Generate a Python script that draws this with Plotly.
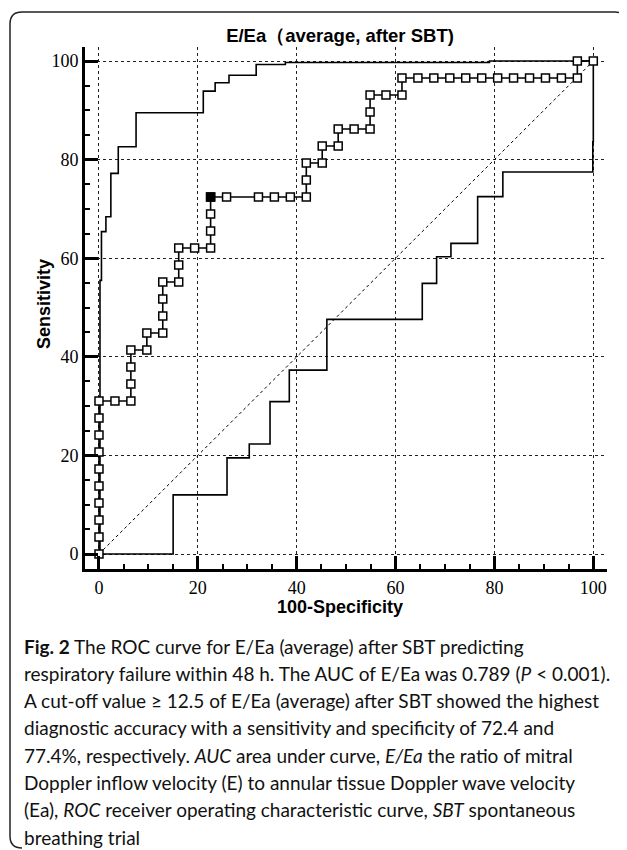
import plotly.graph_objects as go

# ---------------- data ----------------
# ROC curve (100-Specificity, Sensitivity) in %
roc_fpr = [0, 0, 0, 0, 0, 0, 0, 0, 0, 0,
           3.23, 6.45, 6.45, 6.45, 6.45, 9.68, 9.68, 12.90, 12.90, 12.90,
           12.90, 16.13, 16.13, 16.13, 19.35, 22.58, 22.58, 22.58, 22.58, 25.81,
           32.26, 35.48, 38.71, 41.94, 41.94, 41.94, 45.16, 45.16, 48.39, 48.39,
           51.61, 54.84, 54.84, 54.84, 58.06, 61.29, 61.29, 64.52, 67.74, 70.97,
           74.19, 77.42, 80.65, 83.87, 87.10, 90.32, 93.55, 96.77, 96.77, 100]
roc_tpr = [0, 3.45, 6.90, 10.34, 13.79, 17.24, 20.69, 24.14, 27.59, 31.03,
           31.03, 31.03, 34.48, 37.93, 41.38, 41.38, 44.83, 44.83, 48.28, 51.72,
           55.17, 55.17, 58.62, 62.07, 62.07, 62.07, 65.52, 68.97, 72.41, 72.41,
           72.41, 72.41, 72.41, 72.41, 75.86, 79.31, 79.31, 82.76, 82.76, 86.21,
           86.21, 86.21, 89.66, 93.10, 93.10, 93.10, 96.55, 96.55, 96.55, 96.55,
           96.55, 96.55, 96.55, 96.55, 96.55, 96.55, 96.55, 96.55, 100, 100]

# optimal cut-off point (criterion >= 12.5)
cut_fpr = [22.58]
cut_tpr = [72.41]

# upper confidence bound (step curve)
upper_x = [0, 0.2, 0.5, 1.4, 2.4, 3.9, 7.5, 21.1, 23.5, 26.3, 31.8, 37.7, 79.0, 100]
upper_y = [0, 55.5, 65.4, 68.4, 77.2, 82.6, 89.5, 93.9, 95.6, 97.1, 99.3, 99.7, 100, 100]

# lower confidence bound (step curve)
lower_x = [0, 15.0, 25.9, 30.4, 34.6, 38.5, 46.1, 65.4, 68.3, 71.2, 76.6, 81.7, 99.9, 100]
lower_y = [0, 12.0, 19.5, 22.3, 30.9, 37.3, 47.6, 54.9, 60.3, 63.0, 72.5, 77.5, 83.6, 100]

# reference diagonal
diag_x = [0, 100]
diag_y = [0, 100]

tick_vals = [0, 20, 40, 60, 80, 100]
tick_text = ["0", "20", "40", "60", "80", "100"]

title_text = "E/Ea（average, after SBT)"
x_title = "100-Specificity"
y_title = "Sensitivity"

caption_lines = [
    "<b>Fig. 2</b> The ROC curve for E/Ea (average) after SBT predicting",
    "respiratory failure within 48 h. The AUC of E/Ea was 0.789 (<i>P</i> < 0.001).",
    "A cut-off value ≥ 12.5 of E/Ea (average) after SBT showed the highest",
    "diagnostic accuracy with a sensitivity and specificity of 72.4 and",
    "77.4%, respectively. <i>AUC</i> area under curve, <i>E/Ea</i> the ratio of mitral",
    "Doppler inflow velocity (E) to annular tissue Doppler wave velocity",
    "(Ea), <i>ROC</i> receiver operating characteristic curve, <i>SBT</i> spontaneous",
    "breathing trial",
]

# ---------------- layout helpers ----------------
OFF = 8                      # default page margin of the html body
W, H = 627 - OFF, 850 - OFF
ML, MR, MT, MB = 85 - OFF, 20, 47 - OFF, 281
PW = W - ML - MR
PH = H - MT - MB


def px(X):
    """window pixel x -> paper fraction"""
    return (X - OFF - ML) / PW


def py(Y):
    """window pixel y -> paper fraction"""
    return (H - MB - (Y - OFF)) / PH


fig = go.Figure()

fig.add_trace(go.Scatter(x=diag_x, y=diag_y, mode="lines",
                         line=dict(color="black", width=1, dash="dot"),
                         hoverinfo="skip", showlegend=False))
fig.add_trace(go.Scatter(x=upper_x, y=upper_y, mode="lines",
                         line=dict(color="black", width=1.6, shape="hv"),
                         showlegend=False))
fig.add_trace(go.Scatter(x=lower_x, y=lower_y, mode="lines",
                         line=dict(color="black", width=1.6, shape="hv"),
                         showlegend=False))
fig.add_trace(go.Scatter(x=roc_fpr, y=roc_tpr, mode="lines+markers",
                         line=dict(color="black", width=1.6),
                         marker=dict(symbol="square", size=8, color="white",
                                     line=dict(color="black", width=1.5)),
                         showlegend=False))
fig.add_trace(go.Scatter(x=cut_fpr, y=cut_tpr, mode="markers",
                         marker=dict(symbol="square", size=8, color="black",
                                     line=dict(color="black", width=1.5)),
                         showlegend=False))

axis_common = dict(
    tickvals=tick_vals, ticktext=tick_text,
    ticks="inside", ticklen=13, tickwidth=3, tickcolor="black",
    showline=True, linewidth=3, linecolor="black", mirror=False,
    showgrid=True, gridcolor="#222222", gridwidth=1, griddash="dot",
    zeroline=False,
    tickfont=dict(family="Liberation Serif, Times New Roman, serif", size=18, color="black"),
    minor=dict(ticks="inside", ticklen=5, tickwidth=1.5, tickcolor="black",
               dtick=5, tick0=0, showgrid=False),
)

fig.update_xaxes(range=[-2.83, 102.77], **axis_common)
fig.update_yaxes(range=[-3.04, 102.84], **axis_common)

axis_title_font = dict(family="Liberation Sans, Arial, sans-serif",
                       size=18, color="black", weight="bold")
annotations = [
    dict(text=x_title, x=px(340), y=py(606.5), xref="paper", yref="paper",
         xanchor="center", yanchor="middle", showarrow=False,
         font=axis_title_font),
    dict(text=y_title, x=px(44), y=py(304), xref="paper", yref="paper",
         xanchor="center", yanchor="middle", showarrow=False, textangle=-90,
         font=axis_title_font),
]

for i, line in enumerate(caption_lines):
    annotations.append(dict(
        text=line, x=px(22), y=py(646 + 27.3 * i), xref="paper", yref="paper",
        xanchor="left", yanchor="middle", align="left", showarrow=False,
        font=dict(family="Lato, Open Sans, sans-serif", size=19, color="#111111")))

border_path = (
    f"M {px(22)},{py(848)} Q {px(10)},{py(848)} {px(10)},{py(836)} "
    f"L {px(10)},{py(24)} Q {px(10)},{py(12)} {px(22)},{py(12)} "
    f"L {px(615)},{py(12)} Q {px(626)},{py(12)} {px(626)},{py(22)}"
)

fig.update_layout(
    width=W, height=H,
    margin=dict(l=ML, r=MR, t=MT, b=MB, autoexpand=False),
    paper_bgcolor="white", plot_bgcolor="white",
    title=dict(text=title_text, x=px(340), xref="paper", xanchor="center",
               y=1 - (36 - OFF) / H, yref="container", yanchor="middle",
               font=dict(family="Liberation Sans, Arial, sans-serif", size=18.5,
                         color="black", weight="bold")),
    annotations=annotations,
    shapes=[dict(type="path", path=border_path, xref="paper", yref="paper",
                 line=dict(color="#222222", width=1.5))],
    showlegend=False,
)

fig.write_html("out.html")
